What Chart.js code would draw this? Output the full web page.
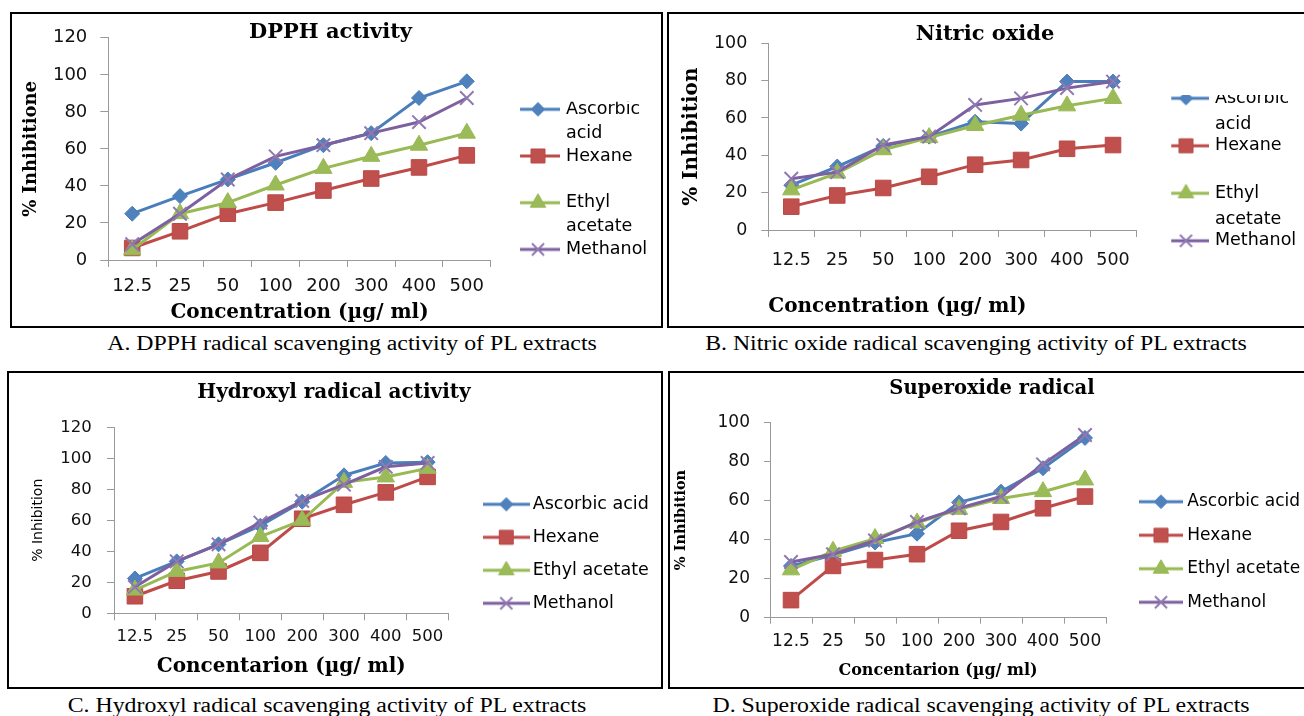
<!DOCTYPE html>
<html>
<head>
<meta charset="utf-8">
<script src="https://cdn.jsdelivr.net/npm/chart.js@4.4.1/dist/chart.umd.min.js"></script>
<style>
html,body{margin:0;padding:0;background:#fff;width:1304px;height:716px;overflow:hidden;position:relative;}
.panel{position:absolute;border:2px solid #000;box-sizing:border-box;}
canvas{position:absolute;}
.cap{position:absolute;width:800px;text-align:center;font-family:'Liberation Serif','Times New Roman',serif;font-size:20px;line-height:24px;color:#000;transform:scaleX(1.19);transform-origin:50% 50%;white-space:nowrap;}
</style>
</head>
<body>
<div class="cap" style="left:-48.5px;top:331px">A. DPPH radical scavenging activity of PL extracts</div>
<div class="cap" style="left:576px;top:331px">B. Nitric oxide radical scavenging activity of PL extracts</div>
<div class="cap" style="left:-73px;top:693px">C. Hydroxyl radical scavenging activity of PL extracts</div>
<div class="cap" style="left:580.5px;top:693px">D. Superoxide radical scavenging activity of PL extracts</div>
<script>
// ---------- data ----------
const concentrations = ['12.5', '25', '50', '100', '200', '300', '400', '500'];
const seriesNames = ['Ascorbic acid', 'Hexane', 'Ethyl acetate', 'Methanol'];

// A. DPPH activity
const dpphAscorbic = [25, 34.5, 43.5, 52.5, 62, 68.5, 87.5, 96.5];
const dpphHexane   = [6.5, 15.5, 25, 31, 37.5, 44, 50, 56.5];
const dpphEthyl    = [5.5, 25, 31, 40.5, 49.5, 56, 62, 68.5];
const dpphMethanol = [8.5, 25, 43.5, 56, 62, 68.5, 74.5, 87.5];

// B. Nitric oxide
const noAscorbic = [24, 34, 45, 50, 58, 57, 79.5, 79.5];
const noHexane   = [12.5, 18.5, 22.5, 28.5, 35, 37.5, 43.5, 45.5];
const noEthyl    = [21.5, 30.5, 43, 49.5, 56, 61.5, 66.5, 70.5];
const noMethanol = [27.5, 31, 45.5, 50, 67, 70.5, 76, 79.5];

// C. Hydroxyl radical
const ohAscorbic = [22.5, 33.5, 44.5, 56.5, 72, 89, 97, 97.5];
const ohHexane   = [11, 21, 27, 39, 61, 70, 78, 88];
const ohEthyl    = [15, 27, 32.5, 49.5, 60, 84.5, 88, 93.5];
const ohMethanol = [17, 33.5, 44.5, 58.5, 72.5, 83, 94.5, 97];

// D. Superoxide radical
const soAscorbic = [26.5, 32, 38.5, 43, 59, 64.5, 76.5, 92];
const soHexane   = [9, 26.5, 29.5, 32.5, 44.5, 49, 56, 62];
const soEthyl    = [24.5, 34, 40.5, 48.5, 55.5, 61, 64.5, 70.5];
const soMethanol = [28.5, 32.5, 39.5, 49, 56, 62, 78.5, 93.5];

const wrappedNames = [['Ascorbic', 'acid'], ['Hexane', ''], ['Ethyl', 'acetate'], ['Methanol']];

// ---------- styles ----------
const SANS = "'DejaVu Sans', sans-serif";
const SERIF = "'DejaVu Serif', serif";
const AXIS = '#9a9a9a';
const seriesStyle = [
  {line: '#4A7EBB', fill: '#4F81BD', border: '#4A7EBB', shape: 'rectRot', r: 7.5, bw: 1},
  {line: '#BE4B48', fill: '#C0504D', border: '#B84A47', shape: 'rect', r: 11, bw: 1},
  {line: '#98B954', fill: '#9BBB59', border: '#98B954', shape: 'triangle', r: 10, bw: 1},
  {line: '#7D60A0', fill: '#8064A2', border: '#9079B0', shape: 'crossRot', r: 9.5, bw: 2}
];

const panels = [
  {box: [10, 12, 653, 316], canvas: [12, 14, 649, 312], area: {l: 108.3, r: 490.7, t: 27.5, b: 260}, yMax: 120,
   data: [dpphAscorbic, dpphHexane, dpphEthyl, dpphMethanol],
   title: {text: 'DPPH activity', size: 21, x: 330.5, y: 33},
   tickSize: 18, yTick: 8, yPad: 13, xTick: 7, xPad: 8.2,
   yTitle: {text: '% Inhibitione', family: SERIF, weight: 'bold', size: 18, pad: 8.9},
   xTitle: {text: 'Concentration (µg/ ml)', size: 20, pad: 1, align: 'center'},
   legend: {texts: wrappedNames, size: 17.5, lh: 24, pad: -1.3, x: 518.75, y: 100.55, bw: 38.5, iconW: 44}},
  {box: [667, 12, 660, 316], canvas: [669, 14, 635, 312], area: {l: 768.3, r: 1136, t: 43.3, b: 230}, yMax: 100,
   data: [noAscorbic, noHexane, noEthyl, noMethanol],
   title: {text: 'Nitric oxide', size: 21, x: 985, y: 35},
   tickSize: 17.5, yTick: 7, yPad: 14, xTick: 7, xPad: 12.5,
   yTitle: {text: '% Inhibition', family: SERIF, weight: 'bold', size: 20, pad: 10.7},
   xTitle: {text: 'Concentration (µg/ ml)', size: 20, pad: 7.3, align: 'start'},
   legend: {texts: wrappedNames, size: 17.5, lh: 26.5, pad: -5.5, x: 1165.75, y: 89.55, bw: 40.5, iconW: 45}},
  {box: [7, 371, 656, 318], canvas: [9, 373, 652, 314], area: {l: 114, r: 448.5, t: 427.3, b: 613.3}, yMax: 120,
   data: [ohAscorbic, ohHexane, ohEthyl, ohMethanol],
   title: {text: 'Hydroxyl radical activity', size: 20, x: 334, y: 393},
   tickSize: 16.5, yTick: 7, yPad: 15.3, xTick: 7, xPad: 6.5,
   yTitle: {text: '% Inhibition', family: SANS, weight: 'normal', size: 14, pad: 20.9},
   xTitle: {text: 'Concentarion (µg/ ml)', size: 20, pad: 8.3, align: 'center'},
   legend: {texts: seriesNames, size: 17.5, lh: 21, pad: 15.5, x: 488.65, y: 495.55, bw: 35.3, iconW: 47}},
  {box: [668, 371, 660, 318], canvas: [670, 373, 634, 314], area: {l: 770, r: 1106, t: 422.3, b: 617.7}, yMax: 100,
   data: [soAscorbic, soHexane, soEthyl, soMethanol],
   title: {text: 'Superoxide radical', size: 19.5, x: 992, y: 389},
   tickSize: 17, yTick: 6, yPad: 14, xTick: 6, xPad: 7.8,
   yTitle: {text: '% Inhibition', family: SERIF, weight: 'bold', size: 14.5, pad: 3},
   xTitle: {text: 'Concentarion (µg/ ml)', size: 16, pad: 6.4, align: 'center'},
   legend: {texts: seriesNames, size: 17, lh: 20.4, pad: 16.5, x: 1143.2, y: 493.2, bw: 35.6, iconW: 44}}
];

// ---------- helpers ----------
function drawMarker(g, st, x, y, r) {
  g.fillStyle = st.fill; g.strokeStyle = st.border; g.lineWidth = st.bw;
  if (Chart.helpers && Chart.helpers.drawPoint) {
    Chart.helpers.drawPoint(g, {pointStyle: st.shape, radius: r, rotation: 0, borderWidth: st.bw}, x, y);
    return;
  }
  g.beginPath();
  if (st.shape === 'rectRot') { g.moveTo(x - r, y); g.lineTo(x, y - r); g.lineTo(x + r, y); g.lineTo(x, y + r); g.closePath(); g.fill(); g.stroke(); }
  else if (st.shape === 'rect') { const s = r * Math.SQRT1_2; g.rect(x - s, y - s, 2 * s, 2 * s); g.fill(); g.stroke(); }
  else if (st.shape === 'triangle') { g.moveTo(x, y - r); g.lineTo(x + r * 0.866, y + r / 2); g.lineTo(x - r * 0.866, y + r / 2); g.closePath(); g.fill(); g.stroke(); }
  else { const s = r * Math.SQRT1_2; g.moveTo(x - s, y - s); g.lineTo(x + s, y + s); g.moveTo(x + s, y - s); g.lineTo(x - s, y + s); g.stroke(); }
}
function makeIcon(st, w) {
  const c = document.createElement('canvas');
  c.width = w; c.height = 26;
  const g = c.getContext('2d');
  g.strokeStyle = st.line; g.lineWidth = 3;
  g.beginPath(); g.moveTo(0, 13); g.lineTo(w, 13); g.stroke();
  drawMarker(g, st, w / 2, 13, st.r * 0.9);
  return c;
}

const placer = {
  id: 'placer',
  afterLayout(chart, args, o) {
    const t = chart.titleBlock;
    if (t && o.title) {
      t.left = o.title.x - 320; t.right = o.title.x + 320;
      t.top = o.title.y - o.title.lh / 2; t.bottom = t.top + o.title.lh;
    }
    const lg = chart.legend;
    if (lg && o.legend) {
      lg.left = o.legend.x - o.legend.pad; lg.top = o.legend.y - o.legend.pad;
      lg.right = chart.width; lg.bottom = chart.height;
    }
  }
};

panels.forEach((P) => {
  const box = document.createElement('div');
  box.className = 'panel';
  box.style.left = P.box[0] + 'px'; box.style.top = P.box[1] + 'px';
  box.style.width = P.box[2] + 'px'; box.style.height = P.box[3] + 'px';
  document.body.appendChild(box);

  const [cx, cy, cw, ch] = P.canvas;
  const cv = document.createElement('canvas');
  cv.width = cw; cv.height = ch;
  cv.style.left = cx + 'px'; cv.style.top = cy + 'px';
  document.body.appendChild(cv);

  const icons = seriesStyle.map(st => makeIcon(st, P.legend.iconW));
  const titleLh = P.title.size * 1.2;

  new Chart(cv, {
    type: 'line',
    data: {
      labels: concentrations,
      datasets: P.data.map((vals, i) => {
        const st = seriesStyle[i];
        return {
          label: seriesNames[i], data: vals, order: 4 - i,
          borderColor: st.line, borderWidth: 3, backgroundColor: st.fill, fill: false, tension: 0,
          pointStyle: st.shape, pointRadius: st.r, pointHoverRadius: st.r,
          pointBackgroundColor: st.fill, pointBorderColor: st.border, pointBorderWidth: st.bw
        };
      })
    },
    options: {
      responsive: false, animation: false, devicePixelRatio: 1, events: [],
      layout: {padding: {left: 0, top: P.area.t - cy, right: cw - (P.area.r - cx) - 1, bottom: 0}},
      plugins: {
        tooltip: {enabled: false},
        title: {display: true, text: P.title.text, color: '#000',
                font: {family: SERIF, weight: 'bold', size: P.title.size, lineHeight: 1.2},
                padding: {top: 0, bottom: -titleLh}},
        legend: {
          display: true, position: 'right', align: 'start', maxWidth: 1,
          labels: {
            usePointStyle: true, pointStyleWidth: P.legend.bw, padding: P.legend.pad, color: '#000',
            font: {family: SANS, size: P.legend.size, lineHeight: P.legend.lh / P.legend.size},
            generateLabels: (chart) => chart.data.datasets.map((ds, i) => ({
              text: P.legend.texts[i], fillStyle: seriesStyle[i].fill, strokeStyle: seriesStyle[i].line,
              lineWidth: 0, pointStyle: icons[i], rotation: 0, hidden: false, datasetIndex: i, fontColor: '#000'
            }))
          }
        },
        placer: {
          title: {x: P.title.x - cx, y: P.title.y - cy, lh: titleLh},
          legend: {x: P.legend.x - cx, y: P.legend.y - cy, pad: P.legend.pad}
        }
      },
      scales: {
        x: {
          type: 'category', offset: true,
          grid: {display: true, offset: true, drawOnChartArea: false, drawTicks: true, tickLength: P.xTick, color: AXIS},
          border: {display: true, color: AXIS, width: 1},
          ticks: {font: {family: SANS, size: P.tickSize}, color: '#111', padding: P.xPad, maxRotation: 0, minRotation: 0, autoSkip: false},
          title: {display: true, text: P.xTitle.text, color: '#000', align: P.xTitle.align,
                  font: {family: SERIF, weight: 'bold', size: P.xTitle.size, lineHeight: 1.2},
                  padding: {top: 0, bottom: P.xTitle.pad}},
          afterFit: (s) => { s.height = ch - (P.area.b - cy); }
        },
        y: {
          min: 0, max: P.yMax,
          grid: {display: true, drawOnChartArea: false, drawTicks: true, tickLength: P.yTick, color: AXIS},
          border: {display: true, color: AXIS, width: 1},
          ticks: {stepSize: 20, font: {family: SANS, size: P.tickSize}, color: '#111', padding: P.yPad},
          title: {display: true, text: P.yTitle.text, color: '#000',
                  font: {family: P.yTitle.family, weight: P.yTitle.weight, size: P.yTitle.size, lineHeight: 1.2},
                  padding: {top: P.yTitle.pad, bottom: 0}},
          afterFit: (s) => { s.width = P.area.l - cx; }
        }
      }
    },
    plugins: [placer]
  });
});
</script>
</body>
</html>
